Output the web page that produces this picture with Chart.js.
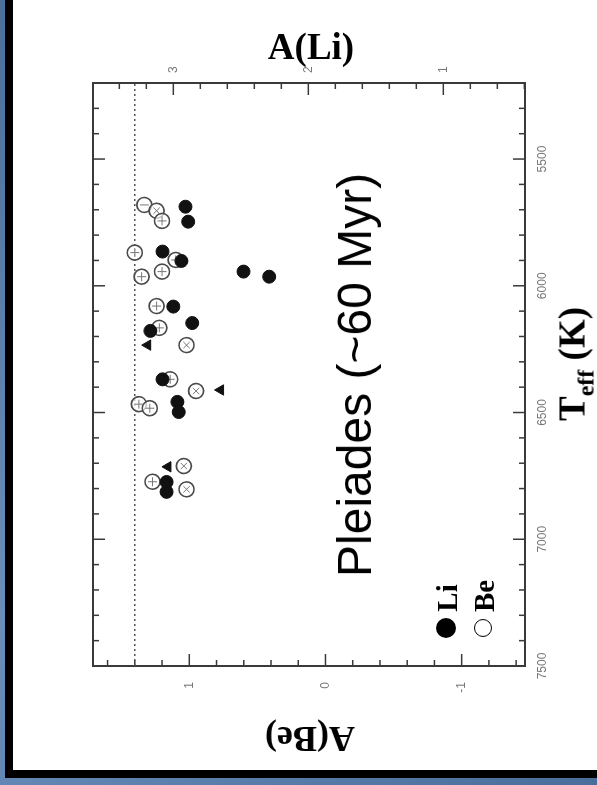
<!DOCTYPE html>
<html>
<head>
<meta charset="utf-8">
<script src="https://cdn.jsdelivr.net/npm/chart.js@4"></script>
<style>
  html, body { margin: 0; padding: 0; }
  body {
    width: 597px; height: 785px; overflow: hidden; position: relative;
    background: linear-gradient(135deg, #4b6f9c 0%, #6a8ebb 45%, #4a6e9b 100%);
  }
  #border { position: absolute; left: 5px; top: 0; width: 592px; height: 778px; background: #000; }
  #paper  { position: absolute; left: 13px; top: 0; width: 584px; height: 770px; background: #fff; }
  /* chart is laid out Teff-horizontal, then turned a quarter turn anticlockwise */
  #wrap {
    position: absolute; left: -80px; top: 93px; width: 770px; height: 584px;
    transform: rotate(-90deg);
  }
  #plot { filter: blur(0.5px); }
  .lbl { position: absolute; white-space: nowrap; line-height: 1; color: #000; }
  .serif { font-family: "Liberation Serif", "DejaVu Serif", serif; font-weight: bold; }
  .dot { position: absolute; border-radius: 50%; box-sizing: border-box; }
</style>
</head>
<body>
<div id="border"></div>
<div id="paper"></div>
<div id="wrap"><canvas id="plot" width="770" height="584"></canvas></div>

<div class="lbl serif" style="left:311px; top:46px; font-size:37px; transform:translate(-50%,-50%);">A(Li)</div>
<div class="lbl serif" style="left:310px; top:739px; font-size:36px; transform:translate(-50%,-50%) rotate(180deg);">A(Be)</div>
<div class="lbl serif" style="left:572px; top:364px; font-size:37px; transform:translate(-50%,-50%) rotate(-90deg);">T<span style="font-size:24px; position:relative; top:9px;">eff</span> (K)</div>
<div class="lbl" style="left:355px; top:375px; font-size:48px; font-family:'Liberation Sans', Arial, sans-serif; transform:translate(-50%,-50%) rotate(-90deg);">Pleiades (~60 Myr)</div>

<div class="dot" style="left:436px; top:618px; width:20px; height:20px; background:#000;"></div>
<div class="lbl serif" style="left:447px; top:598px; font-size:29px; transform:translate(-50%,-50%) rotate(-90deg);">Li</div>
<div class="dot" style="left:474px; top:619px; width:18px; height:18px; border:1.5px solid #000;"></div>
<div class="lbl serif" style="left:484px; top:596px; font-size:29px; transform:translate(-50%,-50%) rotate(-90deg);">Be</div>

<script>
// ---------- data ----------
const teffTicks = [5500, 6000, 6500, 7000, 7500];
const beTicks = [-1, 0, 1];
const liTicks = [1, 2, 3];
const meteoriticBe = 1.40;

// Li detections
const liTeff  = [5688, 5747, 5865, 5902, 5944, 5964, 6082, 6147, 6178, 6369, 6458, 6498, 6774, 6813];
const liAbund = [2.91, 2.89, 3.08, 2.94, 2.48, 2.29, 3.00, 2.86, 3.17, 3.08, 2.97, 2.96, 3.05, 3.05];

// Li limits
const liLimTeff  = [6234, 6411, 6714];
const liLimAbund = [3.19, 2.65, 3.04];

// Be
const beTeff  = [5681, 5704, 5744, 5869, 5898, 5944, 5964, 6080, 6166, 6234, 6369, 6415, 6467, 6483, 6711, 6773, 6803];
const beAbund = [1.33, 1.24, 1.20, 1.40, 1.10, 1.20, 1.35, 1.24, 1.22, 1.02, 1.14, 0.95, 1.37, 1.29, 1.04, 1.27, 1.02];
const beMarks = ['line', 'crossRot', 'cross', 'cross', 'cross', 'cross', 'cross', 'cross', 'cross',
                 'crossRot', 'cross', 'crossRot', 'cross', 'cross', 'crossRot', 'cross', 'crossRot'];

const pts = (xs, ys) => xs.map((x, i) => ({ x, y: ys[i] }));

// ---------- helpers ----------
function steps(lo, hi, step) {
  const out = [];
  for (let v = Math.ceil(lo / step - 1e-6) * step; v <= hi + 1e-6; v += step) out.push(+v.toFixed(3));
  return out;
}

// frame, inward ticks on all four sides, meteoritic Be line
const framePlugin = {
  id: 'frame',
  beforeDatasetsDraw(chart) {
    const { ctx, chartArea: a, scales } = chart;
    ctx.save();
    ctx.strokeStyle = '#3a3a3a';

    ctx.lineWidth = 1.5;
    steps(scales.x.min, scales.x.max, 100).forEach(t => {
      const px = scales.x.getPixelForValue(t);
      const len = teffTicks.includes(t) ? 12 : 6;
      ctx.beginPath();
      ctx.moveTo(px, a.bottom); ctx.lineTo(px, a.bottom - len);
      ctx.moveTo(px, a.top); ctx.lineTo(px, a.top + len);
      ctx.stroke();
    });
    steps(scales.y.min, scales.y.max, 0.2).forEach(b => {
      const py = scales.y.getPixelForValue(b);
      const len = Math.abs(b - Math.round(b)) < 1e-6 ? 12 : 6;
      ctx.beginPath(); ctx.moveTo(a.left, py); ctx.lineTo(a.left + len, py); ctx.stroke();
    });
    steps(scales.y2.min, scales.y2.max, 0.2).forEach(l => {
      const py = scales.y2.getPixelForValue(l);
      const len = Math.abs(l - Math.round(l)) < 1e-6 ? 12 : 6;
      ctx.beginPath(); ctx.moveTo(a.right, py); ctx.lineTo(a.right - len, py); ctx.stroke();
    });

    ctx.lineWidth = 2;
    ctx.strokeRect(a.left, a.top, a.right - a.left, a.bottom - a.top);

    const yb = scales.y.getPixelForValue(meteoriticBe);
    ctx.strokeStyle = '#555';
    ctx.lineWidth = 1.5;
    ctx.setLineDash([2, 3]);
    ctx.beginPath(); ctx.moveTo(a.left, yb); ctx.lineTo(a.right, yb); ctx.stroke();
    ctx.restore();
  }
};

const tickFont = { family: 'Liberation Sans', size: 12 };
const plain = v => String(v);

new Chart(document.getElementById('plot'), {
  type: 'scatter',
  data: {
    datasets: [
      {
        label: 'Li', data: pts(liTeff, liAbund), yAxisID: 'y2',
        pointStyle: 'circle', pointRadius: 6.5,
        backgroundColor: '#111', borderColor: '#111', borderWidth: 1
      },
      {
        label: 'Li limit', data: pts(liLimTeff, liLimAbund), yAxisID: 'y2',
        pointStyle: 'triangle', pointRadius: 6,
        backgroundColor: '#111', borderColor: '#111', borderWidth: 1
      },
      {
        label: 'Be marks', data: pts(beTeff, beAbund), yAxisID: 'y',
        pointStyle: beMarks, pointRadius: 4.5, pointRotation: 90,
        backgroundColor: 'transparent', borderColor: '#777', borderWidth: 1
      },
      {
        label: 'Be', data: pts(beTeff, beAbund), yAxisID: 'y',
        pointStyle: 'circle', pointRadius: 7.5,
        backgroundColor: 'rgba(255,255,255,0.7)', borderColor: '#4a4a4a', borderWidth: 1.6
      }
    ]
  },
  options: {
    responsive: false,
    animation: false,
    devicePixelRatio: 1,
    layout: { padding: { top: 80, left: 0, right: 0, bottom: 0 } },
    plugins: { legend: { display: false }, tooltip: { enabled: false } },
    scales: {
      x: {
        type: 'linear', position: 'bottom', reverse: true, min: 5200, max: 7500,
        grid: { display: false, drawTicks: false }, border: { display: false },
        afterBuildTicks: s => { s.ticks = teffTicks.map(v => ({ value: v })); },
        afterFit: s => { s.height = 72; },
        ticks: { color: '#777', font: tickFont, padding: 10, maxRotation: 0, minRotation: 0, callback: plain }
      },
      y: {
        type: 'linear', position: 'left', min: -1.465, max: 1.707,
        grid: { display: false, drawTicks: false }, border: { display: false },
        afterBuildTicks: s => { s.ticks = beTicks.map(v => ({ value: v })); },
        afterFit: s => { s.width = 104; },
        ticks: { color: '#777', font: tickFont, padding: 16, callback: plain }
      },
      y2: {
        type: 'linear', position: 'right', min: 0.395, max: 3.595,
        grid: { display: false, drawTicks: false }, border: { display: false },
        afterBuildTicks: s => { s.ticks = liTicks.map(v => ({ value: v })); },
        afterFit: s => { s.width = 83; },
        ticks: { color: '#777', font: tickFont, padding: 10, callback: plain }
      }
    }
  },
  plugins: [framePlugin]
});
</script>
</body>
</html>
